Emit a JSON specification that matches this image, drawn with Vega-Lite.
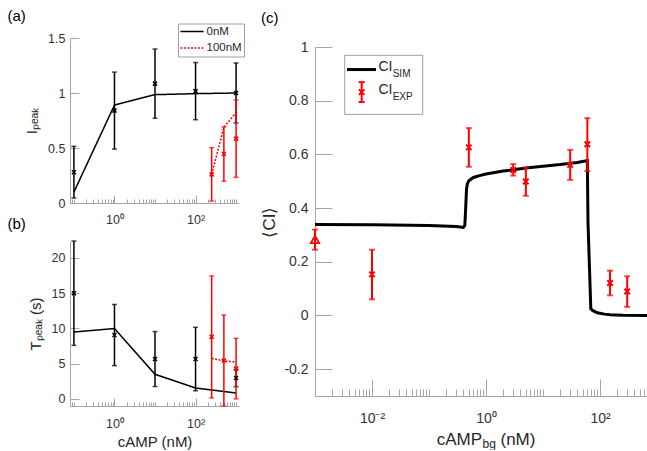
{
  "$schema": "https://vega.github.io/schema/vega-lite/v6.json",
  "padding": {"left": 7, "top": 9, "right": 0, "bottom": 0},
  "background": "white",
  "config": {
    "font": "Liberation Sans",
    "view": {"stroke": null},
    "axis": {"domainColor": "#a6a6a6", "tickColor": "#a6a6a6", "labelColor": "#333333", "labelFontSize": 12.5, "titleFontSize": 15, "titleFontWeight": "normal", "titleColor": "#262626", "grid": false, "labelFont": "Liberation Sans", "titleFont": "Liberation Sans"},
    "title": {"fontSize": 15, "fontWeight": "normal", "anchor": "start", "frame": "group", "color": "#000000", "font": "Liberation Sans"},
    "legend": {"labelFont": "Liberation Sans", "labelColor": "#262626"}
  },
  "datasets": {
    "pa": [
      {"series": "0nM", "x": 0.1, "line": 0.1, "mean": 0.28, "lo": 0.045, "hi": 0.515},
      {"series": "0nM", "x": 1, "line": 0.89, "mean": 0.84, "lo": 0.49, "hi": 1.19},
      {"series": "0nM", "x": 10, "line": 0.985, "mean": 1.085, "lo": 0.77, "hi": 1.4},
      {"series": "0nM", "x": 100, "line": 0.994, "mean": 1.017, "lo": 0.757, "hi": 1.277},
      {"series": "0nM", "x": 1000, "line": 1.0, "mean": 1.0, "lo": 0.727, "hi": 1.273},
      {"series": "100nM", "x": 250, "line": 0.26, "mean": 0.26, "lo": 0.017, "hi": 0.503},
      {"series": "100nM", "x": 500, "line": 0.69, "mean": 0.445, "lo": 0.198, "hi": 0.692},
      {"series": "100nM", "x": 1000, "line": 0.82, "mean": 0.585, "lo": 0.233, "hi": 0.937}
    ],
    "pb": [
      {"series": "0nM", "x": 0.1, "line": 9.5, "mean": 15, "lo": 7.6, "hi": 22.4},
      {"series": "0nM", "x": 1, "line": 10.0, "mean": 9.06, "lo": 4.72, "hi": 13.4},
      {"series": "0nM", "x": 10, "line": 3.5, "mean": 5.66, "lo": 1.76, "hi": 9.56},
      {"series": "0nM", "x": 100, "line": 1.56, "mean": 5.66, "lo": 1.16, "hi": 10.16},
      {"series": "0nM", "x": 1000, "line": 0.85, "mean": 2.97, "lo": 1.74, "hi": 4.2},
      {"series": "100nM", "x": 250, "line": 5.75, "mean": 8.8, "lo": 0.15, "hi": 17.45},
      {"series": "100nM", "x": 500, "line": 5.4, "mean": 5.45, "lo": -1.0, "hi": 11.9},
      {"series": "100nM", "x": 1000, "line": 5.24, "mean": 4.3, "lo": 0.0, "hi": 8.6}
    ],
    "csim": [
      {"x": 0.001, "ci": 0.339}, {"x": 0.01, "ci": 0.338}, {"x": 0.1, "ci": 0.335}, {"x": 0.3, "ci": 0.331},
      {"x": 0.4, "ci": 0.328}, {"x": 0.425, "ci": 0.335}, {"x": 0.44, "ci": 0.4}, {"x": 0.455, "ci": 0.47},
      {"x": 0.47, "ci": 0.49}, {"x": 0.5, "ci": 0.502}, {"x": 0.6, "ci": 0.514}, {"x": 0.8, "ci": 0.522},
      {"x": 1, "ci": 0.527}, {"x": 2, "ci": 0.538}, {"x": 5, "ci": 0.549}, {"x": 10, "ci": 0.556},
      {"x": 20, "ci": 0.562}, {"x": 40, "ci": 0.57}, {"x": 60, "ci": 0.577}, {"x": 61.5, "ci": 0.35},
      {"x": 69, "ci": 0.025}, {"x": 75, "ci": 0.018}, {"x": 90, "ci": 0.01}, {"x": 120, "ci": 0.005},
      {"x": 150, "ci": 0.003}, {"x": 250, "ci": 0.001}, {"x": 715, "ci": 0.0}
    ],
    "cexp": [
      {"x": 0.001, "group": "control", "mean": 0.283, "lo": 0.245, "hi": 0.32},
      {"x": 0.01, "group": "bg", "mean": 0.153, "lo": 0.06, "hi": 0.245},
      {"x": 0.5, "group": "bg", "mean": 0.626, "lo": 0.554, "hi": 0.698},
      {"x": 3, "group": "bg", "mean": 0.542, "lo": 0.521, "hi": 0.564},
      {"x": 5, "group": "bg", "mean": 0.499, "lo": 0.446, "hi": 0.551},
      {"x": 30, "group": "bg", "mean": 0.561, "lo": 0.505, "hi": 0.617},
      {"x": 60, "group": "bg", "mean": 0.638, "lo": 0.538, "hi": 0.735},
      {"x": 150, "group": "bg", "mean": 0.121, "lo": 0.075, "hi": 0.167},
      {"x": 300, "group": "bg", "mean": 0.089, "lo": 0.032, "hi": 0.146}
    ]
  },
  "spacing": 15,
  "resolve": {"scale": {"color": "independent", "strokeDash": "independent"}, "legend": {"color": "independent", "strokeDash": "independent"}},
  "hconcat": [
    {
      "spacing": 38,
      "bounds": "flush",
      "resolve": {"scale": {"x": "independent", "y": "independent", "color": "independent", "strokeDash": "independent"}, "legend": {"color": "independent", "strokeDash": "independent"}},
      "vconcat": [
        {
          "width": 169, "height": 165,
          "title": {"text": "(a)", "dx": -62.5, "offset": -1},
          "data": {"name": "pa"},
          "resolve": {"axis": {"x": "independent"}},
          "layer": [
            {
              "mark": {"type": "line", "strokeWidth": 1.5},
              "encoding": {
                "x": {"field": "x", "type": "quantitative", "scale": {"type": "log", "domain": [0.08, 1180], "nice": false},
                      "axis": {"orient": "bottom", "values": [1, 100], "labelExpr": "datum.value == 1 ? '10⁰' : '10²'", "tickSize": -8, "labelPadding": 18, "title": null}},
                "y": {"field": "line", "type": "quantitative", "scale": {"domain": [0, 1.5], "nice": false},
                      "axis": {"values": [0, 0.5, 1, 1.5], "labelExpr": "'' + datum.value", "tickSize": -9, "labelPadding": 14, "title": "Iₚₑₐₖ", "titlePadding": 8}},
                "color": {"field": "series", "type": "nominal", "scale": {"domain": ["0nM", "100nM"], "range": ["black", "red"]},
                          "legend": {"orient": "none", "legendX": 108, "legendY": -14.5, "title": null, "symbolType": "stroke", "symbolSize": 530, "symbolStrokeWidth": 1.5, "clipHeight": 13, "labelFontSize": 11.5, "padding": 1.5, "rowPadding": 3.6, "strokeColor": "#a0a0a0", "fillColor": "white", "labelOffset": 2}},
                "strokeDash": {"field": "series", "type": "nominal", "scale": {"domain": ["0nM", "100nM"], "range": [[1, 0], [2, 1.5]]},
                          "legend": {"orient": "none", "legendX": 108, "legendY": -14.5, "title": null, "symbolType": "stroke", "symbolSize": 530, "symbolStrokeWidth": 1.5, "clipHeight": 13, "labelFontSize": 11.5, "padding": 1.5, "rowPadding": 3.6, "strokeColor": "#a0a0a0", "fillColor": "white", "labelOffset": 2}}
              }
            },
            {
              "transform": [{"filter": "datum.series == '0nM'"}],
              "mark": {"type": "errorbar", "ticks": {"size": 5}, "thickness": 1.5},
              "encoding": {
                "x": {"field": "x", "type": "quantitative",
                      "axis": {"orient": "bottom", "values": [0.08, 0.09, 0.1, 0.2, 0.3, 0.4, 0.5, 0.6, 0.7, 0.8, 0.9, 2, 3, 4, 5, 6, 7, 8, 9, 10, 20, 30, 40, 50, 60, 70, 80, 90, 200, 300, 400, 500, 600, 700, 800, 900, 1000], "labels": false, "domain": false, "tickSize": -4, "title": null}},
                "y": {"field": "lo", "type": "quantitative", "title": "Iₚₑₐₖ"},
                "y2": {"field": "hi"},
                "color": {"value": "black"}
              }
            },
            {
              "transform": [{"filter": "datum.series == '100nM'"}],
              "mark": {"type": "errorbar", "ticks": {"size": 5}, "thickness": 1.5},
              "encoding": {
                "x": {"field": "x", "type": "quantitative", "axis": null},
                "y": {"field": "lo", "type": "quantitative", "title": "Iₚₑₐₖ"},
                "y2": {"field": "hi"},
                "color": {"value": "red"}
              }
            },
            {
              "transform": [{"filter": "datum.series == '0nM'"}],
              "mark": {"type": "point", "shape": "M-1,-1L1,1M-1,1L1,-1", "size": 16, "strokeWidth": 1.5, "filled": false, "opacity": 1},
              "encoding": {
                "x": {"field": "x", "type": "quantitative", "axis": null},
                "y": {"field": "mean", "type": "quantitative", "title": "Iₚₑₐₖ"},
                "color": {"value": "black"}
              }
            },
            {
              "transform": [{"filter": "datum.series == '100nM'"}],
              "mark": {"type": "point", "shape": "M-1,-1L1,1M-1,1L1,-1", "size": 16, "strokeWidth": 1.5, "filled": false, "opacity": 1},
              "encoding": {
                "x": {"field": "x", "type": "quantitative", "axis": null},
                "y": {"field": "mean", "type": "quantitative", "title": "Iₚₑₐₖ"},
                "color": {"value": "red"}
              }
            }
          ]
        },
        {
          "width": 169, "height": 165,
          "title": {"text": "(b)", "dx": -62.5, "offset": 8},
          "data": {"name": "pb"},
          "resolve": {"axis": {"x": "independent"}},
          "layer": [
            {
              "transform": [{"filter": "datum.series == '0nM'"}],
              "mark": {"type": "line", "strokeWidth": 1.5, "color": "black"},
              "encoding": {
                "x": {"field": "x", "type": "quantitative", "scale": {"type": "log", "domain": [0.08, 1180], "nice": false},
                      "axis": {"orient": "bottom", "values": [1, 100], "labelExpr": "datum.value == 1 ? '10⁰' : '10²'", "tickSize": -8, "labelPadding": 19, "title": "cAMP (nM)", "titleFontSize": 15, "titlePadding": 5}},
                "y": {"field": "line", "type": "quantitative", "scale": {"domain": [-1, 22.4], "nice": false},
                      "axis": {"values": [0, 5, 10, 15, 20], "labelExpr": "'' + datum.value", "tickSize": -9, "labelPadding": 14, "title": "Tₚₑₐₖ (s)", "titlePadding": 8}}
              }
            },
            {
              "transform": [{"filter": "datum.series == '100nM'"}],
              "mark": {"type": "line", "strokeWidth": 1.5, "color": "red", "strokeDash": [2, 1.5]},
              "encoding": {
                "x": {"field": "x", "type": "quantitative", "axis": null},
                "y": {"field": "line", "type": "quantitative", "title": "Tₚₑₐₖ (s)"}
              }
            },
            {
              "transform": [{"filter": "datum.series == '0nM'"}],
              "mark": {"type": "errorbar", "ticks": {"size": 5}, "thickness": 1.5},
              "encoding": {
                "x": {"field": "x", "type": "quantitative",
                      "axis": {"orient": "bottom", "values": [0.08, 0.09, 0.1, 0.2, 0.3, 0.4, 0.5, 0.6, 0.7, 0.8, 0.9, 2, 3, 4, 5, 6, 7, 8, 9, 10, 20, 30, 40, 50, 60, 70, 80, 90, 200, 300, 400, 500, 600, 700, 800, 900, 1000], "labels": false, "domain": false, "tickSize": -4, "title": null}},
                "y": {"field": "lo", "type": "quantitative", "title": "Tₚₑₐₖ (s)"},
                "y2": {"field": "hi"},
                "color": {"value": "black"}
              }
            },
            {
              "transform": [{"filter": "datum.series == '100nM'"}],
              "mark": {"type": "errorbar", "ticks": {"size": 5}, "thickness": 1.5},
              "encoding": {
                "x": {"field": "x", "type": "quantitative", "axis": null},
                "y": {"field": "lo", "type": "quantitative", "title": "Tₚₑₐₖ (s)"},
                "y2": {"field": "hi"},
                "color": {"value": "red"}
              }
            },
            {
              "transform": [{"filter": "datum.series == '0nM'"}],
              "mark": {"type": "point", "shape": "M-1,-1L1,1M-1,1L1,-1", "size": 16, "strokeWidth": 1.5, "filled": false, "opacity": 1},
              "encoding": {
                "x": {"field": "x", "type": "quantitative", "axis": null},
                "y": {"field": "mean", "type": "quantitative", "title": "Tₚₑₐₖ (s)"},
                "color": {"value": "black"}
              }
            },
            {
              "transform": [{"filter": "datum.series == '100nM'"}],
              "mark": {"type": "point", "shape": "M-1,-1L1,1M-1,1L1,-1", "size": 16, "strokeWidth": 1.5, "filled": false, "opacity": 1},
              "encoding": {
                "x": {"field": "x", "type": "quantitative", "axis": null},
                "y": {"field": "mean", "type": "quantitative", "title": "Tₚₑₐₖ (s)"},
                "color": {"value": "red"}
              }
            }
          ]
        }
      ]
    },
    {
      "spacing": 8,
      "bounds": "flush",
      "vconcat": [
        {
          "width": 333.7, "height": 1,
          "data": {"values": [{}]},
          "mark": {"type": "point", "opacity": 0},
          "encoding": {}
        },
        {
          "width": 333.7, "height": 349,
          "title": {"text": "(c)", "dx": -54, "offset": 14},
          "resolve": {"axis": {"x": "independent"}},
          "layer": [
            {
              "data": {"name": "csim"},
              "mark": {"type": "line", "strokeWidth": 3, "color": "black"},
              "encoding": {
                "x": {"field": "x", "type": "quantitative", "scale": {"type": "log", "domain": [0.001, 715], "nice": false},
                      "axis": {"orient": "bottom", "values": [0.01, 1, 100], "labelExpr": "datum.value < 0.1 ? '10⁻²' : (datum.value < 10 ? '10⁰' : '10²')", "tickSize": -17, "labelPadding": 32, "labelFontSize": 14, "title": null}},
                "y": {"field": "ci", "type": "quantitative", "scale": {"domain": [-0.3, 1], "nice": false},
                      "axis": {"values": [-0.2, 0, 0.2, 0.4, 0.6, 0.8, 1], "labelExpr": "'' + datum.value", "tickSize": -17, "labelPadding": 24, "labelFontSize": 14, "title": "⟨CI⟩", "titleFontSize": 17, "titlePadding": 5}}
              }
            },
            {
              "data": {"name": "csim"},
              "mark": {"type": "tick", "opacity": 0},
              "encoding": {
                "x": {"field": "x", "type": "quantitative",
                      "axis": {"orient": "bottom", "values": [0.001, 0.002, 0.003, 0.004, 0.005, 0.006, 0.007, 0.008, 0.009, 0.02, 0.03, 0.04, 0.05, 0.06, 0.07, 0.08, 0.09, 0.1, 0.2, 0.3, 0.4, 0.5, 0.6, 0.7, 0.8, 0.9, 2, 3, 4, 5, 6, 7, 8, 9, 10, 20, 30, 40, 50, 60, 70, 80, 90, 200, 300, 400, 500, 600, 700], "labels": false, "domain": false, "tickSize": -7, "title": null}},
                "y": {"field": "ci", "type": "quantitative", "title": "⟨CI⟩"}
              }
            },
            {
              "data": {"values": [{}]},
              "mark": {"type": "rect", "fill": "white", "stroke": "#a0a0a0", "strokeWidth": 1},
              "encoding": {
                "x": {"datum": 0.00332, "type": "quantitative", "axis": null},
                "x2": {"datum": 0.0776},
                "y": {"datum": 0.969, "type": "quantitative", "title": "⟨CI⟩"},
                "y2": {"datum": 0.749}
              }
            },
            {
              "data": {"values": [{}]},
              "mark": {"type": "rule", "strokeWidth": 3, "color": "black"},
              "encoding": {
                "x": {"datum": 0.00364, "type": "quantitative", "axis": null},
                "x2": {"datum": 0.01175},
                "y": {"datum": 0.916, "type": "quantitative", "title": "⟨CI⟩"}
              }
            },
            {
              "data": {"values": [{}]},
              "mark": {"type": "rule", "strokeWidth": 2, "color": "red"},
              "encoding": {
                "x": {"datum": 0.00659, "type": "quantitative", "axis": null},
                "y": {"datum": 0.795, "type": "quantitative", "title": "⟨CI⟩"},
                "y2": {"datum": 0.869}
              }
            },
            {
              "data": {"values": [{}]},
              "mark": {"type": "rule", "strokeWidth": 2, "color": "red"},
              "encoding": {
                "x": {"datum": 0.00584, "type": "quantitative", "axis": null},
                "x2": {"datum": 0.00744},
                "y": {"datum": 0.795, "type": "quantitative", "title": "⟨CI⟩"}
              }
            },
            {
              "data": {"values": [{}]},
              "mark": {"type": "rule", "strokeWidth": 2, "color": "red"},
              "encoding": {
                "x": {"datum": 0.00584, "type": "quantitative", "axis": null},
                "x2": {"datum": 0.00744},
                "y": {"datum": 0.869, "type": "quantitative", "title": "⟨CI⟩"}
              }
            },
            {
              "data": {"values": [{}]},
              "mark": {"type": "point", "shape": "M-1,-1L1,1M-1,1L1,-1", "size": 30, "strokeWidth": 2, "filled": false, "opacity": 1, "color": "red"},
              "encoding": {
                "x": {"datum": 0.00659, "type": "quantitative", "axis": null},
                "y": {"datum": 0.832, "type": "quantitative", "title": "⟨CI⟩"}
              }
            },
            {
              "data": {"values": [{}]},
              "mark": {"type": "text", "align": "left", "baseline": "middle", "fontSize": 14, "color": "#262626", "text": "CI"},
              "encoding": {
                "x": {"datum": 0.01294, "type": "quantitative", "axis": null},
                "y": {"datum": 0.925, "type": "quantitative", "title": "⟨CI⟩"}
              }
            },
            {
              "data": {"values": [{}]},
              "mark": {"type": "text", "align": "left", "baseline": "middle", "fontSize": 10, "color": "#262626", "text": "SIM"},
              "encoding": {
                "x": {"datum": 0.02307, "type": "quantitative", "axis": null},
                "y": {"datum": 0.898, "type": "quantitative", "title": "⟨CI⟩"}
              }
            },
            {
              "data": {"values": [{}]},
              "mark": {"type": "text", "align": "left", "baseline": "middle", "fontSize": 14, "color": "#262626", "text": "CI"},
              "encoding": {
                "x": {"datum": 0.01294, "type": "quantitative", "axis": null},
                "y": {"datum": 0.841, "type": "quantitative", "title": "⟨CI⟩"}
              }
            },
            {
              "data": {"values": [{}]},
              "mark": {"type": "text", "align": "left", "baseline": "middle", "fontSize": 10, "color": "#262626", "text": "EXP"},
              "encoding": {
                "x": {"datum": 0.02307, "type": "quantitative", "axis": null},
                "y": {"datum": 0.814, "type": "quantitative", "title": "⟨CI⟩"}
              }
            },
            {
              "data": {"values": [{}]},
              "mark": {"type": "text", "align": "right", "baseline": "alphabetic", "fontSize": 17, "color": "#262626", "text": "cAMP", "dy": 49},
              "encoding": {
                "x": {"datum": 0.851, "type": "quantitative", "axis": null},
                "y": {"datum": -0.3, "type": "quantitative", "title": "⟨CI⟩"}
              }
            },
            {
              "data": {"values": [{}]},
              "mark": {"type": "text", "align": "left", "baseline": "alphabetic", "fontSize": 12, "color": "#262626", "text": "bg", "dy": 52},
              "encoding": {
                "x": {"datum": 0.868, "type": "quantitative", "axis": null},
                "y": {"datum": -0.3, "type": "quantitative", "title": "⟨CI⟩"}
              }
            },
            {
              "data": {"values": [{}]},
              "mark": {"type": "text", "align": "left", "baseline": "alphabetic", "fontSize": 17, "color": "#262626", "text": "(nM)", "dy": 49},
              "encoding": {
                "x": {"datum": 1.796, "type": "quantitative", "axis": null},
                "y": {"datum": -0.3, "type": "quantitative", "title": "⟨CI⟩"}
              }
            },
            {
              "data": {"name": "cexp"},
              "transform": [{"filter": "datum.group == 'bg'"}],
              "mark": {"type": "errorbar", "ticks": {"size": 6}, "thickness": 2},
              "encoding": {
                "x": {"field": "x", "type": "quantitative", "axis": null},
                "y": {"field": "lo", "type": "quantitative", "title": "⟨CI⟩"},
                "y2": {"field": "hi"},
                "color": {"value": "red"}
              }
            },
            {
              "data": {"name": "cexp"},
              "transform": [{"filter": "datum.group == 'bg'"}],
              "mark": {"type": "point", "shape": "M-1,-1L1,1M-1,1L1,-1", "size": 30, "strokeWidth": 2, "filled": false, "opacity": 1, "color": "red"},
              "encoding": {
                "x": {"field": "x", "type": "quantitative", "axis": null},
                "y": {"field": "mean", "type": "quantitative", "title": "⟨CI⟩"}
              }
            },
            {
              "data": {"name": "cexp"},
              "transform": [{"filter": "datum.group == 'control'"}],
              "mark": {"type": "errorbar", "ticks": {"size": 6}, "thickness": 2, "clip": false},
              "encoding": {
                "x": {"field": "x", "type": "quantitative", "axis": null},
                "y": {"field": "lo", "type": "quantitative", "title": "⟨CI⟩"},
                "y2": {"field": "hi"},
                "color": {"value": "red"}
              }
            },
            {
              "data": {"name": "cexp"},
              "transform": [{"filter": "datum.group == 'control'"}],
              "mark": {"type": "point", "shape": "triangle-up", "size": 70, "strokeWidth": 1.8, "filled": false, "opacity": 1, "color": "red", "clip": false},
              "encoding": {
                "x": {"field": "x", "type": "quantitative", "axis": null},
                "y": {"field": "mean", "type": "quantitative", "title": "⟨CI⟩"}
              }
            }
          ]
        }
      ]
    }
  ]
}
